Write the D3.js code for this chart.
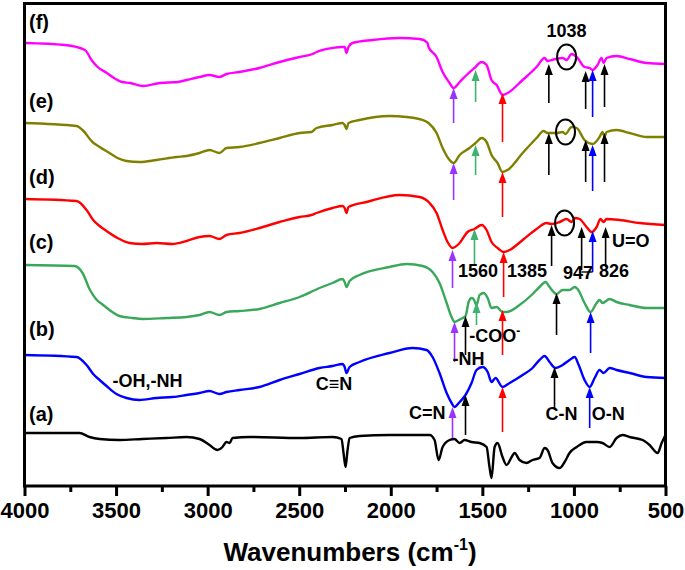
<!DOCTYPE html>
<html>
<head>
<meta charset="utf-8">
<script src="https://cdn.jsdelivr.net/npm/d3@7"></script>
<style>
  html, body { margin: 0; padding: 0; background: #fff; }
  svg text { font-family: "Liberation Sans", Arial, Helvetica, sans-serif; font-weight: bold; fill: #000; }
</style>
</head>
<body>
<svg id="chart" width="685" height="570"></svg>
<script>
// ---- data: [wavenumber (cm-1), transmittance (offset, a.u.)] ----
const sampleA = [[4000,54],[3700,54],[3645,50],[3590,48],[3481,47],[3356,48],[3225,49],[3115,50],[3044,48],[2990,42],[2946,37],[2919,40],[2897,45],[2880,44],[2864,49],[2771,50],[2498,49],[2318,50],[2269,48],[2258,34],[2247,20],[2236,37],[2225,49],[2171,51],[2007,52],[1788,52],[1761,47],[1739,27],[1717,40],[1679,47],[1652,48],[1624,44],[1597,47],[1559,45],[1515,44],[1477,40],[1461,20],[1450,9],[1433,40],[1417,44],[1390,30],[1368,22],[1340,30],[1324,34],[1297,27],[1259,24],[1226,27],[1188,29],[1160,39],[1144,37],[1117,24],[1078,19],[1051,25],[1024,34],[985,40],[931,45],[876,45],[844,44],[805,40],[767,49],[734,52],[696,50],[625,47],[587,42],[543,34],[521,44],[500,52]];
const sampleB = [[4000,132],[3716,130],[3661,122],[3625,113],[3590,107],[3552,101],[3498,93],[3443,89],[3372,87],[3279,89],[3192,90],[3115,92],[3044,94],[2990,96],[2935,93],[2897,95],[2826,97],[2717,100],[2607,107],[2498,113],[2389,119],[2318,121],[2263,123],[2252,120],[2242,114],[2225,120],[2171,125],[2007,134],[1881,139],[1805,137],[1772,130],[1734,114],[1695,94],[1668,84],[1652,80],[1624,85],[1592,92],[1559,104],[1532,117],[1499,120],[1471,115],[1450,105],[1428,109],[1390,100],[1351,104],[1280,112],[1226,119],[1188,127],[1160,131],[1133,125],[1100,119],[1062,122],[1024,127],[996,130],[974,122],[942,107],[914,100],[887,109],[860,117],[838,114],[805,119],[767,117],[696,114],[603,110],[500,109]];
const sampleC = [[4000,222],[3727,221],[3683,214],[3645,198],[3610,188],[3570,182],[3536,177],[3481,171],[3410,169],[3356,168],[3225,169],[3115,170],[3044,172],[2990,175],[2935,172],[2897,175],[2826,176],[2717,178],[2607,184],[2498,190],[2389,199],[2318,204],[2263,208],[2252,205],[2242,200],[2225,206],[2171,212],[2007,220],[1914,223],[1826,221],[1772,215],[1734,204],[1695,184],[1668,170],[1652,165],[1619,168],[1592,171],[1575,185],[1559,189],[1548,188],[1532,182],[1515,192],[1493,194],[1471,189],[1450,179],[1422,180],[1390,175],[1368,175],[1297,182],[1231,192],[1188,200],[1155,205],[1133,200],[1095,193],[1062,197],[1024,197],[996,200],[980,198],[942,184],[909,175],[876,184],[860,187],[844,184],[805,188],[767,185],[696,182],[603,179],[500,179]];
const sampleD = [[4000,288],[3716,286],[3661,277],[3625,267],[3590,261],[3552,256],[3492,249],[3427,244],[3356,243],[3279,244],[3192,243],[3115,246],[3044,250],[2990,251],[2935,248],[2897,252],[2826,254],[2717,259],[2607,265],[2498,270],[2433,272],[2405,274],[2318,279],[2263,281],[2252,279],[2242,274],[2231,280],[2132,285],[1952,292],[1843,290],[1788,284],[1750,274],[1717,257],[1690,245],[1663,239],[1624,244],[1581,255],[1543,258],[1504,262],[1477,257],[1450,245],[1417,239],[1384,235],[1351,237],[1280,247],[1204,258],[1150,264],[1122,263],[1078,265],[1040,268],[1013,265],[996,269],[969,268],[931,260],[903,255],[876,260],[855,268],[838,265],[822,268],[751,267],[641,264],[500,262]];
const sampleE = [[4000,364],[3716,361],[3683,357],[3629,345],[3590,340],[3536,334],[3492,329],[3443,326],[3372,325],[3279,327],[3170,330],[3115,331],[3044,334],[2990,337],[2935,334],[2897,339],[2826,340],[2717,344],[2607,349],[2498,354],[2433,355],[2405,359],[2318,362],[2263,364],[2252,362],[2242,358],[2231,364],[2171,367],[2007,371],[1914,370],[1826,367],[1794,364],[1750,354],[1717,339],[1679,327],[1657,324],[1624,332],[1570,339],[1537,344],[1504,349],[1477,345],[1450,332],[1417,324],[1390,315],[1362,317],[1280,334],[1204,349],[1166,356],[1144,354],[1095,354],[1062,355],[1046,353],[1013,360],[985,359],[942,347],[898,343],[860,350],[844,355],[833,350],[822,355],[767,357],[696,354],[603,350],[500,350]];
const sampleF = [[4000,444],[3780,442],[3670,437],[3634,427],[3601,420],[3550,414],[3520,410],[3468,405],[3424,404],[3353,401],[3260,404],[3162,405],[3115,407],[3044,410],[2990,412],[2935,410],[2897,413],[2826,415],[2717,419],[2607,425],[2498,430],[2427,433],[2405,435],[2318,439],[2269,440],[2252,440],[2242,434],[2231,440],[2209,444],[2100,447],[1952,449],[1843,448],[1799,444],[1794,440],[1750,430],[1717,415],[1679,404],[1657,399],[1624,405],[1586,412],[1543,419],[1504,425],[1477,422],[1450,407],[1422,402],[1390,392],[1362,394],[1280,407],[1204,420],[1160,429],[1144,426],[1100,428],[1062,429],[1040,427],[1013,433],[985,430],[942,420],[914,419],[898,417],[871,422],[849,429],[838,424],[822,429],[767,431],[696,428],[603,424],[500,423]];

const sampleNames = ["(a)","(b)","(c)","(d)","(e)","(f)"];
const sampleColors = ["#000000","#0000ff","#3aa85a","#ff0000","#808000","#ff00ff"];
const sampleLabelValues = [66, 151, 238, 303, 379, 458];

const majorTicks = [4000,3500,3000,2500,2000,1500,1000,500];
const minorTicks = [3750,3250,2750,2250,1750,1250,750];

// arrows: [wavenumber, tail value, tip value, color]
const arrowsF = [[1657,364,399,"#9933ff"],[1537,385,417,"#3cb371"],[1390,345,394,"#ff0000"],[1137,384,423,"#000"],[936,378,416,"#000"],[898,370,417,"#0000ff"],[833,380,423,"#000"]];
const arrowsE = [[1657,287,324,"#9933ff"],[1537,312,342,"#3cb371"],[1390,270,315,"#ff0000"],[1137,312,354,"#000"],[936,305,347,"#000"],[898,296,342,"#0000ff"],[833,305,354,"#000"]];
const arrowsD = [[1663,199,237,"#9933ff"],[1543,222,258,"#3cb371"],[1384,190,235,"#ff0000"],[1122,221,262,"#000"],[958,217,260,"#000"],[898,215,256,"#0000ff"],[827,220,260,"#000"]];
const arrowsC = [[1652,125,165,"#9933ff"],[1592,132,171,"#000"],[1532,162,185,"#3cb371"],[1390,132,177,"#ff0000"],[1095,152,194,"#000"],[909,134,175,"#0000ff"]];
const arrowsB = [[1663,49,80,"#9933ff"],[1592,52,92,"#000"],[1390,55,100,"#ff0000"],[1106,77,120,"#000"],[914,59,100,"#0000ff"]];

// circles around the 1038 band: [wavenumber, value]
const circles1038 = [[1040,430],[1046,355],[1051,264]];

// annotation texts: [text, wavenumber, value, anchor]
const annotations = [
  ["1038",1040,450,"middle"],
  ["1560",1524,210,"middle"],
  ["1385",1256,210,"middle"],
  ["947",978,208,"middle"],
  ["826",781,210,"middle"],
  ["U=O",792,240,"start"],
  ["-NH",1663,122,"start"],
  ["C=N",1701,68,"end"],
  ["C-N",1155,67,"start"],
  ["O-N",903,67,"start"],
  ["-OH,-NH",3520,100,"start"],
  ["C\u2261N",2410,97,"start"]
];

// ---- drawing ----
const svg = d3.select("#chart");
const x = d3.scaleLinear().domain([4000, 500]).range([24.5, 665.5]);
const y = d3.scaleLinear().domain([0, 480]).range([487, 7]);

const line = d3.line().x(d => x(d[0])).y(d => y(d[1])).curve(d3.curveMonotoneX);
const samples = [sampleA, sampleB, sampleC, sampleD, sampleE, sampleF];

samples.forEach((s, i) => {
  svg.append("path").datum(s)
    .attr("d", line)
    .attr("fill", "none")
    .attr("stroke", sampleColors[i])
    .attr("stroke-width", 2.4)
    .attr("stroke-linejoin", "round");
  svg.append("text")
    .attr("x", 29)
    .attr("y", y(sampleLabelValues[i]))
    .attr("font-size", 20)
    .text(sampleNames[i]);
});

// arrows
const allArrows = [].concat(arrowsF, arrowsE, arrowsD, arrowsC, arrowsB);
allArrows.forEach(a => {
  const xp = x(a[0]), y0 = y(a[1]), y1 = y(a[2]);
  svg.append("line")
    .attr("x1", xp).attr("x2", xp)
    .attr("y1", y0).attr("y2", y1 + 8)
    .attr("stroke", a[3]).attr("stroke-width", 1.6);
  svg.append("path")
    .attr("d", `M${xp},${y1} L${xp - 4},${y1 + 11} L${xp + 4},${y1 + 11} Z`)
    .attr("fill", a[3]);
});
// connector under 947 / blue arrow of (d)
svg.append("line")
  .attr("x1", x(arrowsD[4][0])).attr("x2", x(arrowsD[5][0]))
  .attr("y1", y(arrowsD[5][1])).attr("y2", y(arrowsD[5][1]))
  .attr("stroke", "#000").attr("stroke-width", 1.4);

// circles
circles1038.forEach(c => {
  svg.append("ellipse")
    .attr("cx", x(c[0])).attr("cy", y(c[1]))
    .attr("rx", 9.5).attr("ry", 12.5)
    .attr("fill", "none").attr("stroke", "#000").attr("stroke-width", 2);
});

// annotation texts
annotations.forEach(t => {
  svg.append("text")
    .attr("x", x(t[1])).attr("y", y(t[2]))
    .attr("text-anchor", t[3])
    .attr("font-size", 18)
    .text(t[0]);
});
// -COO- with superscript
const coo = svg.append("text")
  .attr("x", x(1571)).attr("y", y(145))
  .attr("font-size", 18);
coo.append("tspan").text("-COO");
coo.append("tspan").attr("font-size", 12).attr("dy", -7).text("-");

// frame
svg.append("rect")
  .attr("x", 24.5).attr("y", 3.5)
  .attr("width", 641).attr("height", 482.5)
  .attr("fill", "none").attr("stroke", "#000").attr("stroke-width", 3);

// x axis
const axisG = svg.append("g").attr("transform", "translate(0,486)");
axisG.call(d3.axisBottom(x).tickValues(majorTicks).tickSize(10).tickSizeOuter(0).tickPadding(6).tickFormat(d3.format("d")));
axisG.select(".domain").remove();
axisG.selectAll(".tick line").attr("stroke", "#000").attr("stroke-width", 3);
axisG.selectAll(".tick text")
  .attr("font-size", 22)
  .attr("font-family", "'Liberation Sans', Arial, sans-serif")
  .attr("font-weight", "bold")
  .attr("fill", "#000");
const minorG = svg.append("g").attr("transform", "translate(0,486)");
minorG.call(d3.axisBottom(x).tickValues(minorTicks).tickSize(6).tickSizeOuter(0).tickFormat(""));
minorG.select(".domain").remove();
minorG.selectAll(".tick line").attr("stroke", "#000").attr("stroke-width", 3);

// axis title
const title = svg.append("text")
  .attr("x", 350).attr("y", 561)
  .attr("text-anchor", "middle")
  .attr("font-size", 26);
title.append("tspan").text("Wavenumbers (cm");
title.append("tspan").attr("font-size", 16).attr("dy", -11).text("-1");
title.append("tspan").attr("dy", 11).text(")");
</script>
</body>
</html>
